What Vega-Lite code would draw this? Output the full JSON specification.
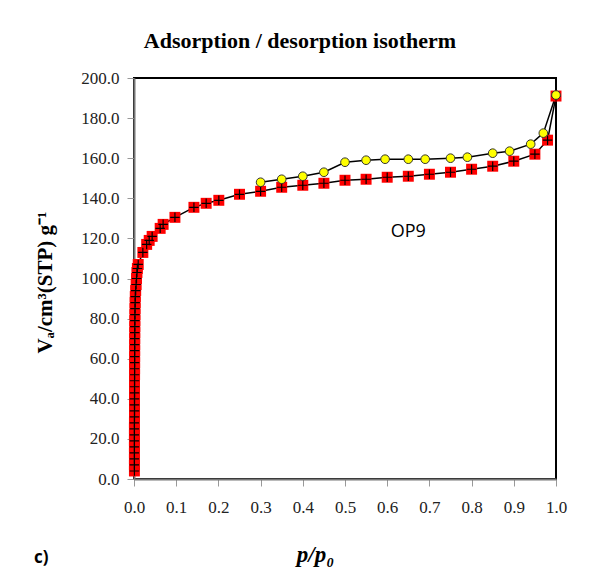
{
  "$schema": "https://vega.github.io/schema/vega-lite/v6.json",
  "autosize": {"type": "none"},
  "padding": {"left": 134, "top": 78, "right": 33, "bottom": 93},
  "width": 422,
  "height": 401,
  "background": "white",
  "title": {
    "text": "Adsorption / desorption isotherm",
    "font": "Liberation Serif",
    "fontSize": 22,
    "fontWeight": "bold",
    "color": "#000",
    "anchor": "middle",
    "dx": -45,
    "baseline": "alphabetic",
    "offset": -1
  },
  "config": {
    "view": {"stroke": "#000", "strokeWidth": 2},
    "axis": {
      "grid": false,
      "domainColor": "#777",
      "domainWidth": 2,
      "tickColor": "#999",
      "tickSize": 7,
      "tickWidth": 1,
      "labelFlush": false,
      "labelOverlap": false,
      "labelFont": "Liberation Serif",
      "labelFontSize": 17,
      "labelColor": "#222",
      "titleColor": "#000"
    }
  },
  "datasets": {
    "iso": [
      {"series": "adsorption", "p": 0.001, "V": 4},
      {"series": "adsorption", "p": 0.001, "V": 7},
      {"series": "adsorption", "p": 0.001, "V": 10},
      {"series": "adsorption", "p": 0.001, "V": 13},
      {"series": "adsorption", "p": 0.001, "V": 16},
      {"series": "adsorption", "p": 0.001, "V": 19},
      {"series": "adsorption", "p": 0.001, "V": 22},
      {"series": "adsorption", "p": 0.001, "V": 25},
      {"series": "adsorption", "p": 0.001, "V": 28},
      {"series": "adsorption", "p": 0.0012, "V": 31},
      {"series": "adsorption", "p": 0.0012, "V": 34},
      {"series": "adsorption", "p": 0.0012, "V": 37},
      {"series": "adsorption", "p": 0.0012, "V": 40},
      {"series": "adsorption", "p": 0.0013, "V": 43},
      {"series": "adsorption", "p": 0.0013, "V": 46},
      {"series": "adsorption", "p": 0.0013, "V": 49},
      {"series": "adsorption", "p": 0.0014, "V": 52},
      {"series": "adsorption", "p": 0.0014, "V": 55},
      {"series": "adsorption", "p": 0.0015, "V": 58},
      {"series": "adsorption", "p": 0.0015, "V": 61},
      {"series": "adsorption", "p": 0.0016, "V": 64},
      {"series": "adsorption", "p": 0.0016, "V": 67},
      {"series": "adsorption", "p": 0.0017, "V": 70},
      {"series": "adsorption", "p": 0.0018, "V": 73},
      {"series": "adsorption", "p": 0.0019, "V": 76},
      {"series": "adsorption", "p": 0.002, "V": 79},
      {"series": "adsorption", "p": 0.0022, "V": 82},
      {"series": "adsorption", "p": 0.0024, "V": 85},
      {"series": "adsorption", "p": 0.0027, "V": 88},
      {"series": "adsorption", "p": 0.003, "V": 91},
      {"series": "adsorption", "p": 0.004, "V": 94},
      {"series": "adsorption", "p": 0.005, "V": 97},
      {"series": "adsorption", "p": 0.006, "V": 100},
      {"series": "adsorption", "p": 0.007, "V": 103},
      {"series": "adsorption", "p": 0.008, "V": 105},
      {"series": "adsorption", "p": 0.01, "V": 107},
      {"series": "adsorption", "p": 0.021, "V": 113},
      {"series": "adsorption", "p": 0.03, "V": 117},
      {"series": "adsorption", "p": 0.036, "V": 119},
      {"series": "adsorption", "p": 0.043, "V": 121},
      {"series": "adsorption", "p": 0.062, "V": 125},
      {"series": "adsorption", "p": 0.069, "V": 127},
      {"series": "adsorption", "p": 0.097, "V": 130.5},
      {"series": "adsorption", "p": 0.142, "V": 135.5},
      {"series": "adsorption", "p": 0.171, "V": 137.5},
      {"series": "adsorption", "p": 0.201, "V": 139},
      {"series": "adsorption", "p": 0.25, "V": 142},
      {"series": "adsorption", "p": 0.3, "V": 143.5},
      {"series": "adsorption", "p": 0.35, "V": 145.5},
      {"series": "adsorption", "p": 0.4, "V": 146.5},
      {"series": "adsorption", "p": 0.45, "V": 147.5},
      {"series": "adsorption", "p": 0.5, "V": 149},
      {"series": "adsorption", "p": 0.55, "V": 149.5},
      {"series": "adsorption", "p": 0.6, "V": 150.5},
      {"series": "adsorption", "p": 0.65, "V": 151},
      {"series": "adsorption", "p": 0.7, "V": 152},
      {"series": "adsorption", "p": 0.75, "V": 153},
      {"series": "adsorption", "p": 0.8, "V": 154.5},
      {"series": "adsorption", "p": 0.85, "V": 156},
      {"series": "adsorption", "p": 0.9, "V": 158.5},
      {"series": "adsorption", "p": 0.95, "V": 162},
      {"series": "adsorption", "p": 0.98, "V": 169},
      {"series": "adsorption", "p": 1.0, "V": 191},
      {"series": "desorption", "p": 1.0, "V": 191.5},
      {"series": "desorption", "p": 0.97, "V": 172.5},
      {"series": "desorption", "p": 0.94, "V": 167},
      {"series": "desorption", "p": 0.89, "V": 163.5},
      {"series": "desorption", "p": 0.85, "V": 162.5},
      {"series": "desorption", "p": 0.79, "V": 160.5},
      {"series": "desorption", "p": 0.75, "V": 160},
      {"series": "desorption", "p": 0.69, "V": 159.5},
      {"series": "desorption", "p": 0.65, "V": 159.5},
      {"series": "desorption", "p": 0.595, "V": 159.5},
      {"series": "desorption", "p": 0.55, "V": 159},
      {"series": "desorption", "p": 0.5, "V": 158},
      {"series": "desorption", "p": 0.45, "V": 153},
      {"series": "desorption", "p": 0.4, "V": 151},
      {"series": "desorption", "p": 0.35, "V": 149.5},
      {"series": "desorption", "p": 0.3, "V": 148}
    ],
    "labels": [
      {"label": "OP9", "p": 0.65, "V": 123}
    ],
    "panel": [
      {"label": "c)", "p": -0.22, "V": -42}
    ]
  },
  "layer": [
    {
      "data": {"name": "iso"},
      "mark": {"type": "line", "color": "#000", "strokeWidth": 1.5},
      "encoding": {
        "x": {
          "field": "p",
          "type": "quantitative",
          "scale": {"domain": [0, 1], "nice": false},
          "axis": {
            "values": [0, 0.1, 0.2, 0.3, 0.4, 0.5, 0.6, 0.7, 0.8, 0.9, 1.0],
            "format": ".1f",
            "labelPadding": 13,
            "title": "p/p₀",
            "titleFont": "Liberation Serif",
            "titleFontSize": 23,
            "titleFontWeight": "bold",
            "titleFontStyle": "italic",
            "titleX": 181,
            "titleY": 82,
            "titleBaseline": "alphabetic",
            "titleAlign": "center"
          }
        },
        "y": {
          "field": "V",
          "type": "quantitative",
          "scale": {"domain": [0, 200], "nice": false},
          "axis": {
            "values": [0, 20, 40, 60, 80, 100, 120, 140, 160, 180, 200],
            "format": ".1f",
            "labelPadding": 8,
            "title": "Vₐ/cm³(STP) g⁻¹",
            "titleFont": "Liberation Serif",
            "titleFontSize": 21,
            "titleFontWeight": "bold",
            "titleAngle": -90,
            "titleX": -89,
            "titleY": 204,
            "titleBaseline": "middle",
            "titleAlign": "center"
          }
        },
        "detail": {"field": "series"},
        "order": {"field": "p"}
      }
    },
    {
      "data": {"name": "iso"},
      "transform": [{"filter": "datum.series === 'adsorption'"}],
      "mark": {"type": "point", "shape": "square", "filled": true, "color": "#FF0000", "size": 120, "opacity": 1},
      "encoding": {
        "x": {"field": "p", "type": "quantitative"},
        "y": {"field": "V", "type": "quantitative"}
      }
    },
    {
      "data": {"name": "iso"},
      "transform": [{"filter": "datum.series === 'adsorption'"}],
      "mark": {"type": "point", "shape": "M-1,0L1,0M0,-1L0,1", "filled": false, "color": "#000", "strokeWidth": 1.2, "size": 90, "opacity": 1},
      "encoding": {
        "x": {"field": "p", "type": "quantitative"},
        "y": {"field": "V", "type": "quantitative"}
      }
    },
    {
      "data": {"name": "iso"},
      "transform": [{"filter": "datum.series === 'desorption'"}],
      "mark": {"type": "point", "shape": "circle", "filled": true, "fill": "#FFFF00", "stroke": "#333", "strokeWidth": 1, "size": 75, "opacity": 1},
      "encoding": {
        "x": {"field": "p", "type": "quantitative"},
        "y": {"field": "V", "type": "quantitative"}
      }
    },
    {
      "data": {"name": "labels"},
      "mark": {"type": "text", "font": "Open Sans", "fontSize": 18, "color": "#000", "align": "center", "baseline": "middle"},
      "encoding": {
        "x": {"field": "p", "type": "quantitative"},
        "y": {"field": "V", "type": "quantitative"},
        "text": {"field": "label", "type": "nominal"}
      }
    },
    {
      "data": {"name": "panel"},
      "mark": {"type": "text", "font": "Open Sans", "fontSize": 17, "fontWeight": "bold", "color": "#000", "align": "center", "baseline": "alphabetic", "clip": false},
      "encoding": {
        "x": {"field": "p", "type": "quantitative"},
        "y": {"field": "V", "type": "quantitative"},
        "text": {"field": "label", "type": "nominal"}
      }
    }
  ]
}
